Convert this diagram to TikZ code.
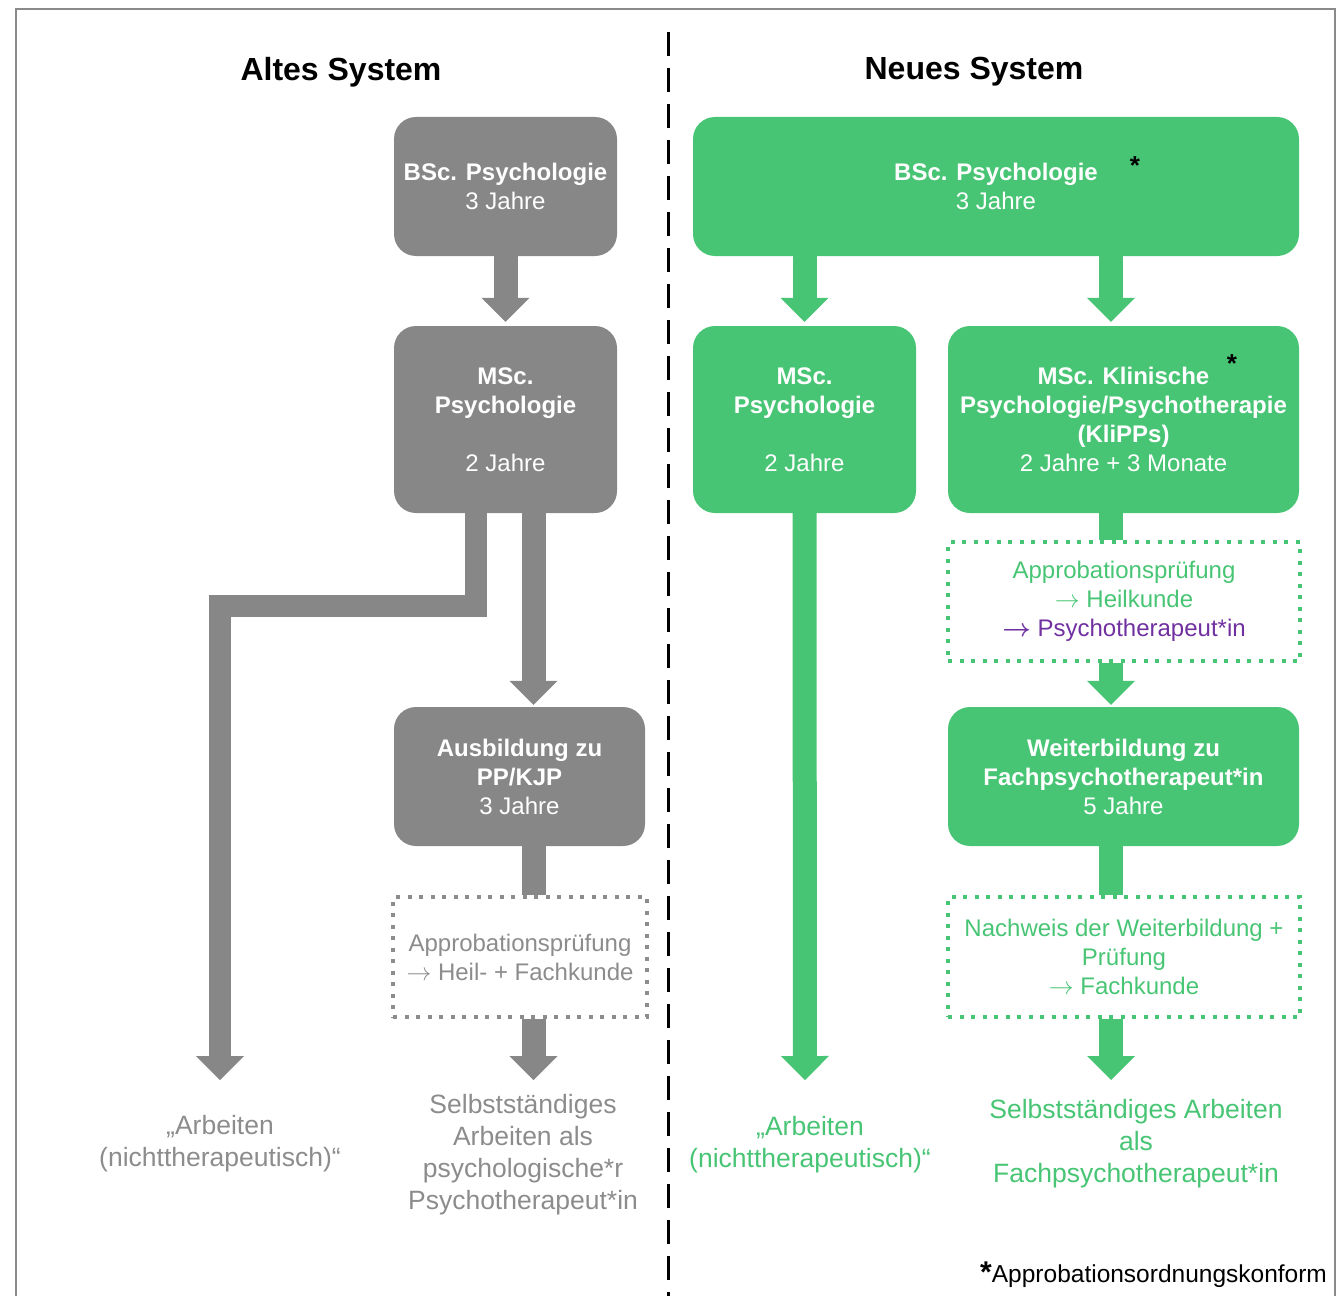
\documentclass[tikz,border=0pt]{standalone}
\usepackage{amsmath}
\usepackage{fontspec}
\setmainfont{Liberation Sans}
\usetikzlibrary{arrows.meta}
\definecolor{grayfill}{HTML}{878787}
\definecolor{greenfill}{HTML}{48C574}
\definecolor{graytext}{HTML}{8C8C8C}
\definecolor{purp}{HTML}{7030A0}
\definecolor{framec}{HTML}{8A8A8A}
\newcommand{\thinarr}{$\rightarrow$}
\newcommand{\boldarr}{$\boldsymbol{\rightarrow}$}
\tikzset{
  boxfont/.style={font=\fontsize{24}{29}\selectfont},
  oldbox/.style={fill=grayfill, rounded corners=22pt, text=white, align=center, inner sep=0pt, boxfont},
  newbox/.style={fill=greenfill, rounded corners=22pt, text=white, align=center, inner sep=0pt, boxfont},
  dotbox/.style={draw, line width=4pt, dash pattern=on 4pt off 7.5pt, align=center, inner sep=0pt, boxfont},
  label/.style={align=center, inner sep=0pt, font=\fontsize{26.5}{32}\selectfont},
  title/.style={inner sep=0pt, font=\fontsize{32}{36}\selectfont\bfseries},
  star/.style={inner sep=0pt, font=\fontsize{26}{26}\selectfont\bfseries},
  bigarrow/.style={line width=24pt, -{Triangle[width=48pt,length=24pt,line width=0pt]}},
  shaft/.style={line width=24pt},
}
\begin{document}
\begin{tikzpicture}[x=1pt,y=-1pt]
\useasboundingbox (0,0) rectangle (1337,1295);
% frame
\draw[framec, line width=2.5pt] (16,1300) -- (16,9) -- (1335,9) -- (1335,1300);
% divider
\coordinate (divT) at (668,32);
\coordinate (divB) at (668,1300);
\draw[black, line width=3pt, dash pattern=on 24pt off 12pt] (divT) -- (divB);
% titles
\node[title] (tA) at (341,72) {Altes System};
\node[title] (tN) at (974,72) {Neues System};

% ---- old system
\node[oldbox, minimum width=223pt, minimum height=139pt] (bscA) at (505.5,186.5) {\textbf{BSc. Psychologie}\\3 Jahre};
\node[oldbox, minimum width=223pt, minimum height=187pt] (mscA) at (505.5,419.5) {\textbf{MSc.}\\\textbf{Psychologie}\\[29pt]2 Jahre};
\node[oldbox, minimum width=251pt, minimum height=139pt] (ausA) at (519.5,776.5) {\textbf{Ausbildung zu}\\\textbf{PP/KJP}\\3 Jahre};
\node[dotbox, draw=graytext, text=graytext, minimum width=254pt, minimum height=120pt] (dotA) at (520,957) {Approbationsprüfung\\\thinarr{} Heil- + Fachkunde};
\node[label, text=graytext] (arbA) at (220,1144) {„Arbeiten\\(nichttherapeutisch)“};
\node[label, text=graytext] (selA) at (523,1155) {Selbstständiges\\Arbeiten als\\psychologische*r\\Psychotherapeut*in};

\coordinate (colA) at (533.5,0);
\coordinate (xL) at (476,0);
\coordinate (bar) at (0,605.5);
\coordinate (tipL) at (220,1080);
\coordinate (tipA) at (533.5,1080);

\draw[grayfill, bigarrow, shorten >=4pt] (bscA.south) -- (mscA.north);
\draw[grayfill, line width=22pt, -{Triangle[width=48pt,length=24pt,line width=0pt]}] (mscA.south -| xL) -- (bar -| xL) -- (bar -| tipL) -- (tipL);
\draw[grayfill, bigarrow, shorten >=2pt] (mscA.south -| colA) -- (ausA.north -| colA);
\draw[grayfill, shaft] (ausA.south -| colA) -- (dotA.north -| colA);
\draw[grayfill, bigarrow] (dotA.south -| colA) -- (tipA);

% ---- new system
\node[newbox, minimum width=606pt, minimum height=139pt] (bscN) at (996,186.5) {\textbf{BSc. Psychologie}\\3 Jahre};
\node[star] (s1) at (1135,166) {*};
\node[newbox, minimum width=223pt, minimum height=187pt] (mscN) at (804.5,419.5) {\textbf{MSc.}\\\textbf{Psychologie}\\[29pt]2 Jahre};
\node[newbox, minimum width=351pt, minimum height=187pt] (klip) at (1123.5,419.5) {\textbf{MSc. Klinische}\\\textbf{Psychologie/Psychotherapie}\\\textbf{(KliPPs)}\\2 Jahre + 3 Monate};
\node[star] (s2) at (1232,364) {*};
\node[dotbox, draw=greenfill, text=greenfill, minimum width=352pt, minimum height=119pt] (dotN1) at (1124,601.5) {Approbationsprüfung\\\thinarr{} Heilkunde\\\textcolor{purp}{\boldarr{} Psychotherapeut*in}};
\node[newbox, minimum width=351pt, minimum height=139pt] (weit) at (1123.5,776.5) {\textbf{Weiterbildung zu}\\\textbf{Fachpsychotherapeut*in}\\5 Jahre};
\node[dotbox, draw=greenfill, text=greenfill, minimum width=352pt, minimum height=120pt] (dotN2) at (1124,957) {Nachweis der Weiterbildung +\\Prüfung\\\thinarr{} Fachkunde};
\node[label, text=greenfill] (arbN) at (810,1144.5) {„Arbeiten\\(nichttherapeutisch)“};
\node[label, text=greenfill] (selN) at (1136,1144) {Selbstständiges Arbeiten\\als\\Fachpsychotherapeut*in};

\coordinate (colN) at (1111,0);
\coordinate (tipN) at (805,1080);
\coordinate (tipR) at (1111,1080);

\draw[greenfill, bigarrow, shorten >=4pt] (bscN.south -| mscN.north) -- (mscN.north);
\draw[greenfill, bigarrow, shorten >=4pt] (bscN.south -| colN) -- (klip.north -| colN);
\draw[greenfill, bigarrow] (mscN.south) -- (tipN);
\draw[greenfill, shaft] (klip.south -| colN) -- (dotN1.north -| colN);
\draw[greenfill, bigarrow, shorten >=2pt] (dotN1.south -| colN) -- (weit.north -| colN);
\draw[greenfill, shaft] (weit.south -| colN) -- (dotN2.north -| colN);
\draw[greenfill, bigarrow] (dotN2.south -| colN) -- (tipR);

% footnote
\node[anchor=base west, inner sep=0pt] (foot) at (980,1282) {{\fontsize{30}{30}\selectfont\bfseries *}{\fontsize{24.5}{28}\selectfont Approbationsordnungskonform}};
\end{tikzpicture}
\end{document}
